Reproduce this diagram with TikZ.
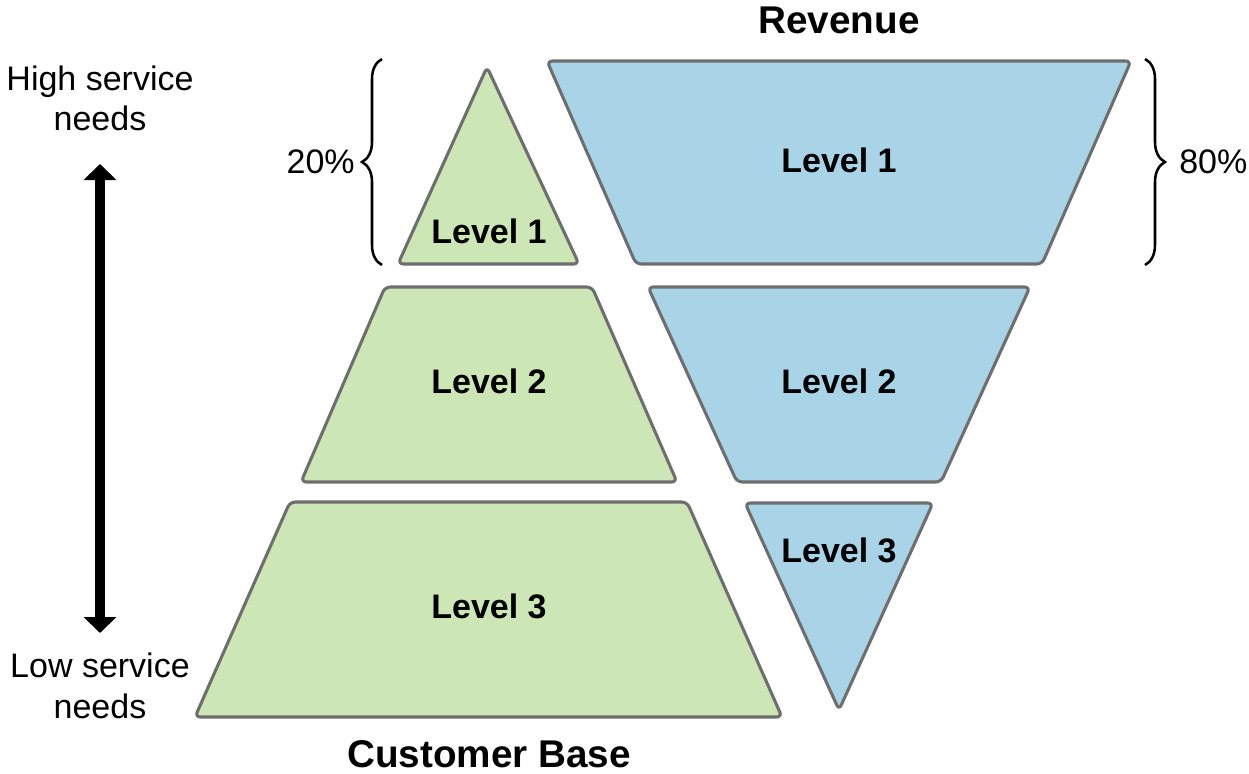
\documentclass[tikz,border=0pt]{standalone}
\usepackage{fontspec}
\setmainfont{Liberation Sans}
\usetikzlibrary{arrows.meta,decorations.pathreplacing}
\definecolor{grn}{HTML}{CDE6B5}
\definecolor{blu}{HTML}{A9D4E8}
\definecolor{edge}{HTML}{6E6E6E}
\begin{document}
\begin{tikzpicture}[x=0.75pt,y=-0.75pt,
  shp/.style={draw=edge,line width=2.3pt,rounded corners=4pt,line join=round},
  gshape/.style={shp,fill=grn},
  bshape/.style={shp,fill=blu},
  lvl/.style={inner sep=0pt,font=\fontsize{25.5}{30}\selectfont\bfseries},
  ttl/.style={inner sep=0pt,font=\fontsize{29}{34}\selectfont\bfseries},
  txt/.style={inner sep=0pt,font=\fontsize{25.5}{30}\selectfont},
  brc/.style={decorate,decoration={brace,amplitude=15pt,aspect=0.5},line width=1.9pt}]
\useasboundingbox (0,0) rectangle (1249,774);
% green customer base
\draw[gshape] (487,67) -- (579,264) -- (398,264) -- cycle;
\draw[gshape] (385,287) -- (592,287) -- (677,482) -- (301,482) -- cycle;
\draw[gshape] (290,502) -- (687,502) -- (782,717) -- (195,717) -- cycle;
% blue revenue
\draw[bshape] (547,61) -- (1131,61) -- (1042,264) -- (636,264) -- cycle;
\draw[bshape] (648,287) -- (1030,287) -- (941,482) -- (737,482) -- cycle;
\draw[bshape] (745,503) -- (933,503) -- (839,710) -- cycle;
% labels
\node[lvl] (g1) at (489,231) {Level 1};
\node[lvl] (g2) at (489,381) {Level 2};
\node[lvl] (g3) at (489,606) {Level 3};
\node[lvl] (b1) at (839,160) {Level 1};
\node[lvl] (b2) at (839,381) {Level 2};
\node[lvl] (b3) at (839,550) {Level 3};
\node[ttl] (rev) at (839,20) {Revenue};
\node[ttl] (cb) at (489,754) {Customer Base};
% braces
\coordinate (lb1) at (382,265);
\coordinate (lt1) at (382,59);
\draw[brc] (lb1) -- (lt1);
\node[txt,anchor=east] (p20) at (355,162) {20\%};
\coordinate (rt1) at (1145,59);
\coordinate (rb1) at (1145,265);
\draw[brc] (rt1) -- (rb1);
\node[txt,anchor=west] (p80) at (1179,162) {80\%};
% side texts
\node[txt,anchor=base] (h1) at (100,90) {High service};
\node[txt,anchor=base] (h2) at (100,130) {needs};
\node[txt,anchor=base] (l1) at (100,677) {Low service};
\node[txt,anchor=base] (l2) at (100,718) {needs};
\coordinate (at) at (100,164);
\coordinate (ab) at (100,633);
\draw[line width=7.5pt,{Triangle[length=12pt,width=24pt]}-{Triangle[length=12pt,width=24pt]}] (at) -- (ab);
\end{tikzpicture}
\end{document}
